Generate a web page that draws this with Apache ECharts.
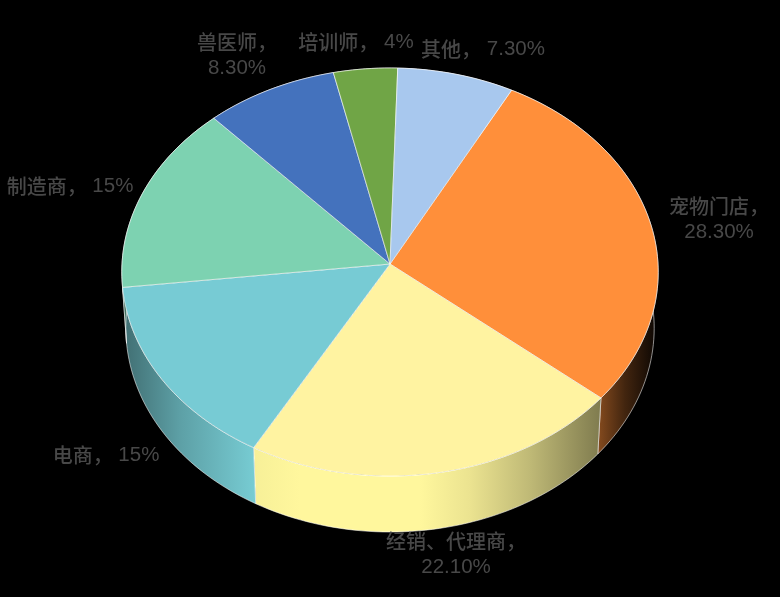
<!DOCTYPE html>
<html><head><meta charset="utf-8">
<style>html,body{margin:0;padding:0;background:#000}#c{width:780px;height:597px;filter:blur(0.45px)}</style>
<script src="https://cdn.jsdelivr.net/npm/echarts@6/dist/echarts.min.js"></script>
</head><body><div id="c"></div>
<script>
// Data, clockwise from the first slice
var categories = ['宠物门店','经销、代理商','电商','制造商','兽医师','培训师','其他'];
var shares = [28.3,22.1,15,15,8.3,4,7.3];
var shareLabels = ['28.30%','22.10%','15%','15%','8.30%','4%','7.30%'];
var colors = ['#FF8F3A','#FFF3A1','#77CBD4','#7DD2B1','#4472BD','#70A546','#A8C8EE'];
var wallColors = ['#FF8F3A','#FFF79D','#7BD2DA','#7DD2B1','#4472BD','#70A546','#A8C8EE'];

// Layout of the tilted disc
var FIRST_ANGLE = 28, CX = 390, CY = 264, RX = 268, RY = 203.7, PERSP = 0.0392, DEPTH = 56, SHRINK = 0.985;
var labelPos = [[719,219,2],[456,554,2],[106,455,1],[70,186,1],[237,55,2],[356,42,1],[483,49,1]];
var lightStops = [[122,.52],[180,.76],[255,.97],[300,1],[420,1],[470,.92],[530,.75],[600,.50],[625,.26],[656,.05]];

var total = shares.reduce(function(a,b){return a+b;},0);
function startAngle(i){ var s=0; for(var k=0;k<i;k++) s+=shares[k]; return FIRST_ANGLE + s/total*360; }
function rim(deg, lower){
  var t = deg*Math.PI/180, u = Math.sin(t), v = -Math.cos(t), d = 1-PERSP*v;
  var x = RX*u/d, y = RY*v/d;
  return lower ? [CX+x*SHRINK, CY+y+DEPTH] : [CX+x, CY+y];
}
function arc(a0,a1,lower){
  var pts=[], n=Math.max(8,Math.ceil((a1-a0)/1.5));
  for(var i=0;i<=n;i++) pts.push(rim(a0+(a1-a0)*i/n,lower));
  return pts;
}
function hexMul(hex,f){
  var n=parseInt(hex.slice(1),16);
  return 'rgb('+[(n>>16)&255,(n>>8)&255,n&255].map(function(c){return Math.round(c*f);}).join(',')+')';
}
function wallFill(hex){
  var x0=lightStops[0][0], x1=lightStops[lightStops.length-1][0];
  return {type:'linear',global:true,x:x0,y:0,x2:x1,y2:0,
    colorStops:lightStops.map(function(s){return {offset:(s[0]-x0)/(x1-x0),color:hexMul(hex,s[1])};})};
}
function renderWall(p,api){
  var i=p.dataIndex, a0=startAngle(i), a1=a0+api.value(0)/total*360;
  return {type:'polygon',shape:{points:arc(a0,a1,false).concat(arc(a0,a1,true).reverse())},
    style:{fill:wallFill(wallColors[i]),stroke:'rgba(255,255,255,0.55)',lineWidth:1}};
}
function renderTop(p,api){
  var i=p.dataIndex, a0=startAngle(i), a1=a0+api.value(0)/total*360;
  return {type:'polygon',shape:{points:[[CX,CY]].concat(arc(a0,a1,false))},
    style:{fill:colors[i],stroke:'rgba(255,255,255,0.6)',lineWidth:1}};
}
function renderLabel(p,api){
  var i=p.dataIndex, q=labelPos[i];
  var txt = q[2]===2 ? '{c|'+categories[i]+'，}\n{n|'+shareLabels[i]+'}' : '{c|'+categories[i]+'，}{n| '+shareLabels[i]+'}';
  return {type:'text',x:q[0],y:q[1],style:{text:txt,align:'center',verticalAlign:'middle',fill:'#484848',
    rich:{c:{fontFamily:'"Noto Sans CJK SC"',fontSize:20,lineHeight:26,fill:'#484848',fontWeight:500},
          n:{fontFamily:'"Liberation Sans"',fontSize:20.5,lineHeight:26,fill:'#484848'}}}};
}
function series(fn,z){return {type:'custom',coordinateSystem:'none',data:shares,renderItem:fn,z:z,silent:true,animation:false};}
echarts.init(document.getElementById('c')).setOption({
  backgroundColor:'#000',animation:false,
  series:[series(renderWall,1),series(renderTop,2),series(renderLabel,3)]
});
</script></body></html>
